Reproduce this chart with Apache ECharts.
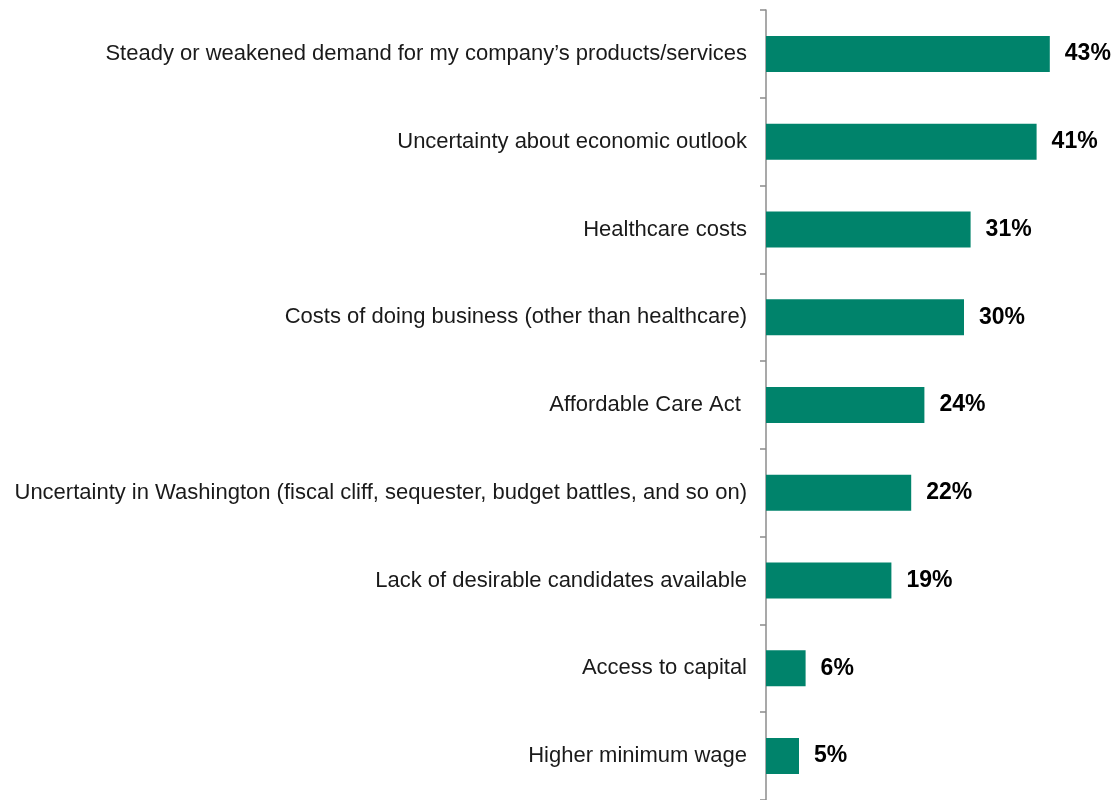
<!DOCTYPE html>
<html>
<head>
<meta charset="utf-8">
<script src="https://cdn.jsdelivr.net/npm/echarts@6/dist/echarts.min.js"></script>
<style>
  html, body { margin: 0; padding: 0; background: #ffffff; }
  #chart { width: 1118px; height: 800px; }
</style>
</head>
<body>
<div id="chart"></div>
<script>
// Reasons cited, top to bottom
const categories = [
  "Steady or weakened demand for my company\u2019s products/services",
  "Uncertainty about economic outlook",
  "Healthcare costs",
  "Costs of doing business (other than healthcare)",
  "Affordable Care Act ",
  "Uncertainty in Washington (fiscal cliff, sequester, budget battles, and so on)",
  "Lack of desirable candidates available",
  "Access to capital",
  "Higher minimum wage"
];

// Share of respondents, in percent
const shares = [43, 41, 31, 30, 24, 22, 19, 6, 5];

const chart = echarts.init(document.getElementById('chart'));

chart.setOption({
  animation: false,
  backgroundColor: '#ffffff',
  grid: { left: 766, right: 22, top: 10, bottom: 0, containLabel: false },
  xAxis: {
    type: 'value',
    min: 0,
    max: 50,
    show: false
  },
  yAxis: {
    type: 'category',
    data: categories,
    inverse: true,
    axisLine: { show: true, lineStyle: { color: '#8c8c8c', width: 1.5 } },
    axisTick: { show: true, length: 6, lineStyle: { color: '#8c8c8c', width: 1.5 } },
    axisLabel: {
      margin: 19,
      color: '#1a1a1a',
      fontFamily: 'Liberation Sans, Arial, sans-serif',
      fontSize: 22
    },
    splitLine: { show: false }
  },
  series: [{
    type: 'bar',
    data: shares,
    barWidth: 36,
    itemStyle: { color: '#00836B' },
    label: {
      show: true,
      position: 'right',
      distance: 15,
      formatter: p => p.value + '%',
      color: '#000000',
      fontFamily: 'Liberation Sans, Arial, sans-serif',
      fontWeight: 'bold',
      fontSize: 23
    }
  }]
});
</script>
</body>
</html>
